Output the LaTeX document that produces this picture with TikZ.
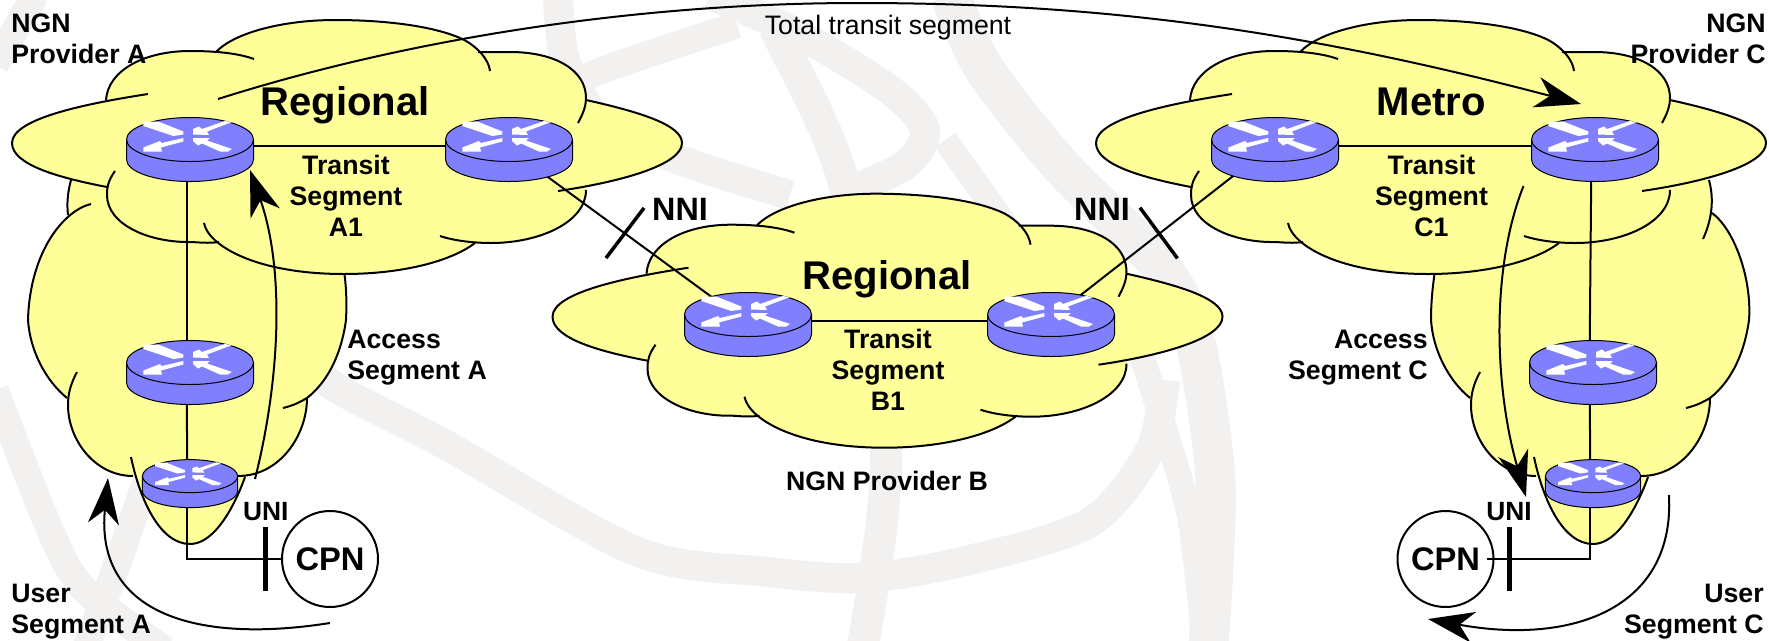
\documentclass[tikz,border=0pt]{standalone}
\usepackage{xcolor}
\usepackage{fontspec}
\setmainfont{Liberation Sans}
\usetikzlibrary{arrows.meta}
\definecolor{cloudyellow}{HTML}{FFFF99}
\definecolor{routerblue}{HTML}{8080FF}
\definecolor{globegrey}{HTML}{F2F1F0}

% lobes of the big cloud
\def\lobeleft{(148,94) .. controls (90,103) and (12,118) .. (12,143) .. controls (12,165) and (60,178) .. (107,187)}
\def\lobelowleft{(115,171) .. controls (108,181) and (107,187) .. (107,195) .. controls (107,225) and (150,243) .. (192,242) .. controls (205,243) and (212,243) .. (219,242)}
\def\lobebottom{(204,223) .. controls (208,245) and (255,274) .. (344,274) .. controls (400,274) and (450,262) .. (475,243)}
\def\lobelowright{(440,236) .. controls (455,241) and (475,243) .. (491,243) .. controls (540,243) and (586,222) .. (586,190)}
\def\loberight{(558,191) .. controls (620,182) and (682,165) .. (682,143) .. controls (682,125) and (640,112) .. (586,100)}
\def\lobeupright{(578,123) .. controls (584,112) and (586,105) .. (586,98) .. controls (586,70) and (555,52) .. (510,52) .. controls (500,52) and (490,52) .. (478,52)}
\def\lobetop{(490,71) .. controls (488,55) and (470,42) .. (460,38) .. controls (430,25) and (380,20) .. (335,20) .. controls (285,20) and (235,32) .. (216,52)}
\def\lobeupleft{(254,59) .. controls (240,54) and (220,51) .. (190,51) .. controls (145,51) and (108,70) .. (106,100)}
% lobes of the tall cloud, lower half
\def\acclobea{(28,320) .. controls (30,350) and (45,380) .. (67,398)}
\def\acclobeb{(77,372) .. controls (70,385) and (68,395) .. (68,405) .. controls (68,440) and (95,476) .. (133,476)}
\def\acclobec{(131,457) .. controls (140,500) and (160,544) .. (190,544) .. controls (215,544) and (235,505) .. (245,477)}
\def\acclobed{(238,476) .. controls (280,476) and (307,435) .. (307,398)}
\def\acclobee{(283,408) .. controls (295,405) and (300,402) .. (307,398) .. controls (330,380) and (342,350) .. (346,320)}

\tikzset{
  cloudfill/.style={fill=cloudyellow},
  cloudline/.style={draw=black,line width=.04cm},
  transitcloud/.pic={
    \fill[cloudfill] (106,100)--(216,52)--(478,52)--(586,100)--(586,190)--(491,243)--(219,242)--(107,187)--cycle;
    \foreach \l in {\lobeleft,\lobelowleft,\lobebottom,\lobelowright,\loberight,\lobeupright,\lobetop,\lobeupleft}{\fill[cloudfill] \l -- cycle;}
    \foreach \l in {\lobeleft,\lobelowleft,\lobebottom,\lobelowright,\loberight,\lobeupright,\lobetop,\lobeupleft}{\draw[cloudline] \l;}
  },
  accesscloud/.pic={
    \fill[cloudfill] (28,320)--(346,320)--(307,398)--(238,476)--(133,476)--(67,398)--cycle;
    \foreach \l in {\acclobea,\acclobeb,\acclobec,\acclobed,\acclobee}{\fill[cloudfill] \l -- cycle;}
    \foreach \l in {\acclobea,\acclobeb,\acclobec,\acclobed,\acclobee}{\draw[cloudline] \l;}
  },
  routerarrow/.style={fill=white},
  router/.pic={
    \filldraw[fill=routerblue,draw=black,line width=.02cm] (-63.5,0) -- (-63.5,20) arc[start angle=180,end angle=0,x radius=63.5,y radius=22] -- (63.5,0) arc[start angle=0,end angle=-180,x radius=63.5,y radius=22] -- cycle;
    \draw[draw=black,line width=.02cm] (-63.5,0) arc[start angle=180,end angle=0,x radius=63.5,y radius=22];
    \fill[routerarrow] (-46.7,-18) -- (-31.7,-18) -- (-6.7,-8) -- (-6.7,-5) -- (-16.7,-3.5) -- (-46.7,-13.5) -- cycle;
    \fill[routerarrow] (-6.7,-1.5) -- (-28,3.5) -- (-30,1.5) -- (-46.7,8) -- (-46.7,12) -- (-28,12) -- (-29,8) -- (-6.7,2) -- cycle;
    \fill[routerarrow] (35,-18.5) -- (42,-17.5) -- (17,-8) -- (19,-4.5) -- (3,-5) -- (3,-10.5) -- (9,-13) -- (12,-10.5) -- cycle;
    \fill[routerarrow] (3,-1.5) -- (20,-1.5) -- (17,1) -- (42,9.5) -- (38,12) -- (30,12) -- (12,4) -- (8,6) -- (3,1.5) -- cycle;
  },
  routerspot/.style={inner sep=0pt,minimum width=1.8cm,minimum height=.6cm},
  link/.style={line width=.04cm},
  bigarrow/.style={line width=.04cm,-{Stealth[length=.92cm,width=.62cm,inset=.28cm]}},
  globeband/.style={globegrey,line width=.6cm},
  seglabel/.style={font=\fontsize{15.2}{17.6}\selectfont\bfseries,inner sep=0pt},
  bigname/.style={font=\fontsize{22.8}{26}\selectfont\bfseries,inner sep=0pt},
  nnilabel/.style={font=\fontsize{18.4}{21}\selectfont\bfseries,inner sep=0pt},
  cpnnode/.style={circle,draw,line width=.04cm,inner sep=0pt,minimum size=1.92cm,font=\fontsize{18.6}{21}\selectfont\bfseries},
  unibar/.style={fill=black,inner sep=0pt,minimum width=.1cm,minimum height=1.28cm},
  nnibar/.style={fill=black,inner sep=0pt,minimum width=1.26cm,minimum height=.07cm}
}
\newcommand{\routericon}[2]{\pic[scale=#2,shift={(3.5,-6.5)}] at (#1) {router};}

\begin{document}
\begin{tikzpicture}[x=.02cm,y=-.02cm]
\useasboundingbox (0,0) rectangle (1769,640);
\clip (0,0) rectangle (1769,640);

% globe behind everything
\draw[globeband] plot[smooth] coordinates {(300,345) (332,385) (446,445) (638,552) (769,572) (861,578) (961,562) (1089,523) (1150,450) (1165,380)};
\draw[globeband,line width=.64cm] plot[smooth] coordinates {(770,25) (782,43) (845,187) (886,450) (862,650)};
\draw[globeband] plot[smooth] coordinates {(710,-5) (800,35) (890,90) (925,130) (905,165) (840,195)};
\draw[globeband,line width=.54cm] plot[smooth] coordinates {(555,95) (603,70) (737,25)};
\draw[globeband] plot[smooth] coordinates {(558,-5) (565,60) (600,120) (680,160) (790,195)};
\draw[globeband,line width=.8cm] plot[smooth] coordinates {(950,-5) (985,70) (1062,167) (1161,267) (1195,340) (1215,473) (1213,573) (1208,650)};
\draw[globeband,line width=.5cm] plot[smooth] coordinates {(945,140) (1020,245)};
\draw[globeband,line width=.5cm] plot[smooth] coordinates {(1140,350) (1165,430) (1190,520) (1205,650)};
\draw[globeband,line width=.55cm] plot[smooth] coordinates {(-5,390) (50,530) (85,590) (165,650)};
\draw[globeband,line width=.55cm] plot[smooth] coordinates {(150,470) (115,570) (85,650)};
\draw[globeband,line width=.55cm] (-5,65) -- (35,-5);

% access clouds
\fill[cloudfill] (28,320) -- (68,215) -- (71,180) -- (300,180) -- (344,270) -- (346,320) -- cycle;
\fill[cloudfill] (28,320) .. controls (30,250) and (65,210) .. (91,204) -- cycle;
\draw[cloudline] (91,204) .. controls (65,210) and (30,250) .. (28,320);
\draw[cloudline] (71,180) .. controls (67,195) and (67,205) .. (68,215);
\draw[cloudline] (346,320) .. controls (347,300) and (346,285) .. (344,270);
\pic at (0,0) {accesscloud};

\fill[cloudfill] (1431,320) -- (1435,270) -- (1600,180) -- (1709,180) -- (1712,213) -- (1749,320) -- cycle;
\fill[cloudfill] (1712,213) .. controls (1735,230) and (1752,280) .. (1749,320) -- cycle;
\draw[cloudline] (1431,320) .. controls (1431,300) and (1433,285) .. (1435,270);
\draw[cloudline] (1709,180) .. controls (1713,195) and (1714,215) .. (1703,239);
\draw[cloudline] (1712,213) .. controls (1735,230) and (1752,280) .. (1749,320);
\pic at (1403,0) {accesscloud};

% transit clouds
\pic at (0,0) {transitcloud};
\pic at (540.5,173.7) {transitcloud};
\pic at (1084,0) {transitcloud};

% routers and end points
\node[routerspot] (ra1) at (186.5,146) {};
\node[routerspot] (ra2) at (505.5,146) {};
\node[routerspot] (rb1) at (744.5,321) {};
\node[routerspot] (rb2) at (1047.5,321) {};
\node[routerspot] (rc1) at (1271.5,146) {};
\node[routerspot] (rc2) at (1591.5,146) {};
\node[routerspot] (rma) at (186.5,369) {};
\node[routerspot] (rmc) at (1589.5,369) {};
\node[routerspot] (rsa) at (187.4,481) {};
\node[routerspot] (rsc) at (1590.4,481) {};
\node[cpnnode] (cpna) at (330,559) {CPN};
\node[cpnnode] (cpnc) at (1445.5,559) {CPN};
\coordinate (cpnctail) at (1487,559);

\draw[link] (ra1) -- (ra2);
\draw[link] (rb1) -- (rb2);
\draw[link] (rc1) -- (rc2);
\draw[link] (ra2) -- (rb1);
\draw[link] (rc1) -- (rb2);
\draw[link] (ra1) -- (rma);
\draw[link] (rma) -- (rsa);
\draw[link] (rc2) -- (rmc);
\draw[link] (rmc) -- (rsc);
\draw[link] (rsa) |- (cpna);
\draw[link] (rsc) |- (cpnctail);

\routericon{ra1}{1}
\routericon{ra2}{1}
\routericon{rb1}{1}
\routericon{rb2}{1}
\routericon{rc1}{1}
\routericon{rc2}{1}
\routericon{rma}{1}
\routericon{rmc}{1}
\routericon{rsa}{.75}
\routericon{rsc}{.75}

% interface bars
\node[unibar] (unia) at (265.7,559) {};
\node[unibar] (unic) at (1509.3,559) {};
\node[nnibar,rotate=52.8] (nnia) at (625,233) {};
\node[nnibar,rotate=-53.5] (nnic) at (1158.7,233) {};

% segment curves
\coordinate (totals) at (218,99);
\coordinate (totalm) at (858,3);
\coordinate (totale) at (1581,104);
\draw[bigarrow] (totals) .. controls (420,35) and (650,3) .. (totalm) .. controls (1100,3) and (1300,30) .. (totale);
\coordinate (seca) at (255,479);
\coordinate (secaend) at (250,170);
\draw[bigarrow] (seca) .. controls (280,380) and (285,270) .. (secaend);
\coordinate (secc) at (1523.5,186);
\coordinate (seccend) at (1526,497);
\draw[bigarrow] (secc) .. controls (1490,270) and (1495,390) .. (seccend);
\coordinate (usera) at (330,623);
\coordinate (useraend) at (108,478);
\draw[bigarrow] (usera) .. controls (190,645) and (95,610) .. (useraend);
\coordinate (userc) at (1669,495);
\coordinate (usercend) at (1428,619);
\draw[bigarrow] (userc) .. controls (1675,610) and (1570,645) .. (usercend);

% labels
\node[seglabel,anchor=west,align=left] (lprova) at (11,38.5) {NGN\\Provider A};
\node[seglabel,anchor=east,align=right] (lprovc) at (1766,38.5) {NGN\\Provider C};
\node[seglabel,anchor=base] (lprovb) at (887,490) {NGN Provider B};
\node[seglabel,anchor=base,font=\fontsize{15.2}{17.6}\selectfont] (ltotal) at (888,34) {Total transit segment};
\node[bigname,anchor=base] (lrega) at (345,115) {Regional};
\node[bigname,anchor=base] (lregb) at (887,289) {Regional};
\node[bigname,anchor=base] (lmetro) at (1431.5,115) {Metro};
\node[seglabel,align=center] (ltra) at (346,196) {Transit\\Segment\\A1};
\node[seglabel,align=center] (ltrb) at (888,370) {Transit\\Segment\\B1};
\node[seglabel,align=center] (ltrc) at (1431.5,196) {Transit\\Segment\\C1};
\node[seglabel,anchor=west,align=left] (lacca) at (347,358) {Access\\Segment A};
\node[seglabel,anchor=east,align=right] (laccc) at (1428,358) {Access\\Segment C};
\node[seglabel,anchor=west,align=left] (lusera) at (11,612) {User\\Segment A};
\node[seglabel,anchor=east,align=right] (luserc) at (1764,612) {User\\Segment C};
\node[nnilabel,anchor=base] (lnnia) at (680,220) {NNI};
\node[nnilabel,anchor=base] (lnnic) at (1102,220) {NNI};
\node[seglabel,anchor=base,font=\fontsize{15}{17}\selectfont\bfseries] (lunia) at (265.7,520) {UNI};
\node[seglabel,anchor=base,font=\fontsize{15}{17}\selectfont\bfseries] (lunic) at (1509,520) {UNI};
\end{tikzpicture}
\end{document}
